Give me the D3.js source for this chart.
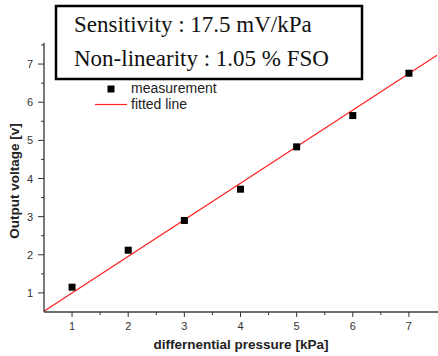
<!DOCTYPE html>
<html>
<head>
<meta charset="utf-8">
<script src="https://cdn.jsdelivr.net/npm/d3@7"></script>
<style>
  body { margin: 0; background: #fff; }
  svg { display: block; }
</style>
</head>
<body>
<svg width="438" height="356"></svg>
<script>
const width = 438, height = 356;

// data
const pressure = [1, 2, 3, 4, 5, 6, 7];
const voltage = [1.15, 2.12, 2.9, 3.72, 4.83, 5.65, 6.76];
const fitX = [0.5, 7.5];
const fitY = [0.52, 7.23];
const xTicks = [1, 2, 3, 4, 5, 6, 7];
const yTicks = [1, 2, 3, 4, 5, 6, 7];
const infoLines = ["Sensitivity : 17.5 mV/kPa", "Non-linearity : 1.05 % FSO"];
const legendLabels = ["measurement", "fitted line"];

const margin = {left: 44, top: 45, right: 1, bottom: 44};

const svg = d3.select("svg");

const x = d3.scaleLinear()
    .domain([0.5, 7.5])
    .range([margin.left, width - margin.right]);

const y = d3.scaleLinear()
    .domain([0.5, 7.5])
    .range([height - margin.bottom, margin.top]);

svg.append("defs").append("clipPath")
    .attr("id", "plotclip")
    .append("rect")
        .attr("x", margin.left)
        .attr("y", 0)
        .attr("width", width - margin.left)
        .attr("height", height - margin.bottom);

// fitted line
svg.append("line")
    .attr("clip-path", "url(#plotclip)")
    .attr("x1", x(fitX[0]))
    .attr("y1", y(fitY[0]))
    .attr("x2", x(fitX[1]))
    .attr("y2", y(fitY[1]))
    .attr("stroke", "#ff2020")
    .attr("stroke-width", 1.2);

// measurement points
svg.append("g")
    .selectAll("rect")
    .data(pressure)
    .join("rect")
        .attr("x", (d, i) => x(d) - 3.5)
        .attr("y", (d, i) => y(voltage[i]) - 3.5)
        .attr("width", 7)
        .attr("height", 7)
        .attr("fill", "black");

// minor ticks
const minorX = d3.range(1.5, 7.5, 1);
const minorY = d3.range(1.5, 7.6, 1);

// bottom axis
const gx = svg.append("g")
    .attr("transform", `translate(0, ${height - margin.bottom})`);
gx.append("line")
    .attr("x1", margin.left).attr("x2", width)
    .attr("stroke", "#6e6e6e").attr("stroke-width", 2);
gx.selectAll(".major")
    .data(xTicks)
    .join("line")
        .attr("class", "major")
        .attr("x1", d => x(d)).attr("x2", d => x(d))
        .attr("y1", 0).attr("y2", 5)
        .attr("stroke", "#333").attr("stroke-width", 1);
gx.selectAll(".minor")
    .data(minorX)
    .join("line")
        .attr("class", "minor")
        .attr("x1", d => x(d)).attr("x2", d => x(d))
        .attr("y1", 0).attr("y2", 3)
        .attr("stroke", "#333").attr("stroke-width", 1);
gx.selectAll("text")
    .data(xTicks)
    .join("text")
        .attr("x", d => x(d))
        .attr("y", 17.5)
        .attr("text-anchor", "middle")
        .attr("font-family", "Liberation Sans, Arial, sans-serif")
        .attr("font-size", 11)
        .attr("fill", "#333")
        .text(d => d);

// left axis
const gy = svg.append("g")
    .attr("transform", `translate(${margin.left}, 0)`);
gy.append("line")
    .attr("y1", y(7.55)).attr("y2", height - margin.bottom)
    .attr("stroke", "#222").attr("stroke-width", 1.2);
gy.selectAll(".major")
    .data(yTicks)
    .join("line")
        .attr("class", "major")
        .attr("y1", d => y(d)).attr("y2", d => y(d))
        .attr("x1", 0).attr("x2", -6)
        .attr("stroke", "#333").attr("stroke-width", 1);
gy.selectAll(".minor")
    .data(minorY)
    .join("line")
        .attr("class", "minor")
        .attr("y1", d => y(d)).attr("y2", d => y(d))
        .attr("x1", 0).attr("x2", -3)
        .attr("stroke", "#333").attr("stroke-width", 1);
gy.selectAll("text")
    .data(yTicks)
    .join("text")
        .attr("x", -11)
        .attr("y", d => y(d) + 4)
        .attr("text-anchor", "end")
        .attr("font-family", "Liberation Sans, Arial, sans-serif")
        .attr("font-size", 11)
        .attr("fill", "#333")
        .text(d => d);

// axis titles
svg.append("text")
    .attr("x", 241)
    .attr("y", 349)
    .attr("text-anchor", "middle")
    .attr("font-family", "Liberation Sans, Arial, sans-serif")
    .attr("font-weight", "bold")
    .attr("font-size", 13.5)
    .attr("fill", "#222")
    .text("differnential pressure [kPa]");

svg.append("text")
    .attr("transform", "translate(18.5, 181) rotate(-90)")
    .attr("text-anchor", "middle")
    .attr("font-family", "Liberation Sans, Arial, sans-serif")
    .attr("font-weight", "bold")
    .attr("font-size", 13.5)
    .attr("fill", "#222")
    .text("Output voltage [v]");

// info box
svg.append("rect")
    .attr("x", 56)
    .attr("y", 6)
    .attr("width", 306)
    .attr("height", 73)
    .attr("fill", "white")
    .attr("stroke", "black")
    .attr("stroke-width", 2.5);

svg.append("g")
    .selectAll("text")
    .data(infoLines)
    .join("text")
        .attr("x", 74)
        .attr("y", (d, i) => 32 + i * 34)
        .attr("font-family", "Liberation Serif, Times New Roman, serif")
        .attr("font-size", 23)
        .attr("fill", "#111")
        .text(d => d);

// legend
const leg = svg.append("g");
leg.append("rect")
    .attr("x", 107.5).attr("y", 85.5)
    .attr("width", 7).attr("height", 7)
    .attr("fill", "black");
leg.append("line")
    .attr("x1", 95).attr("x2", 127)
    .attr("y1", 104.5).attr("y2", 104.5)
    .attr("stroke", "#ff2020").attr("stroke-width", 1.2);
leg.selectAll("text")
    .data(legendLabels)
    .join("text")
        .attr("x", 131)
        .attr("y", (d, i) => 93 + i * 16)
        .attr("font-family", "Liberation Sans, Arial, sans-serif")
        .attr("font-size", 14)
        .attr("fill", "#222")
        .text(d => d);
</script>
</body>
</html>
